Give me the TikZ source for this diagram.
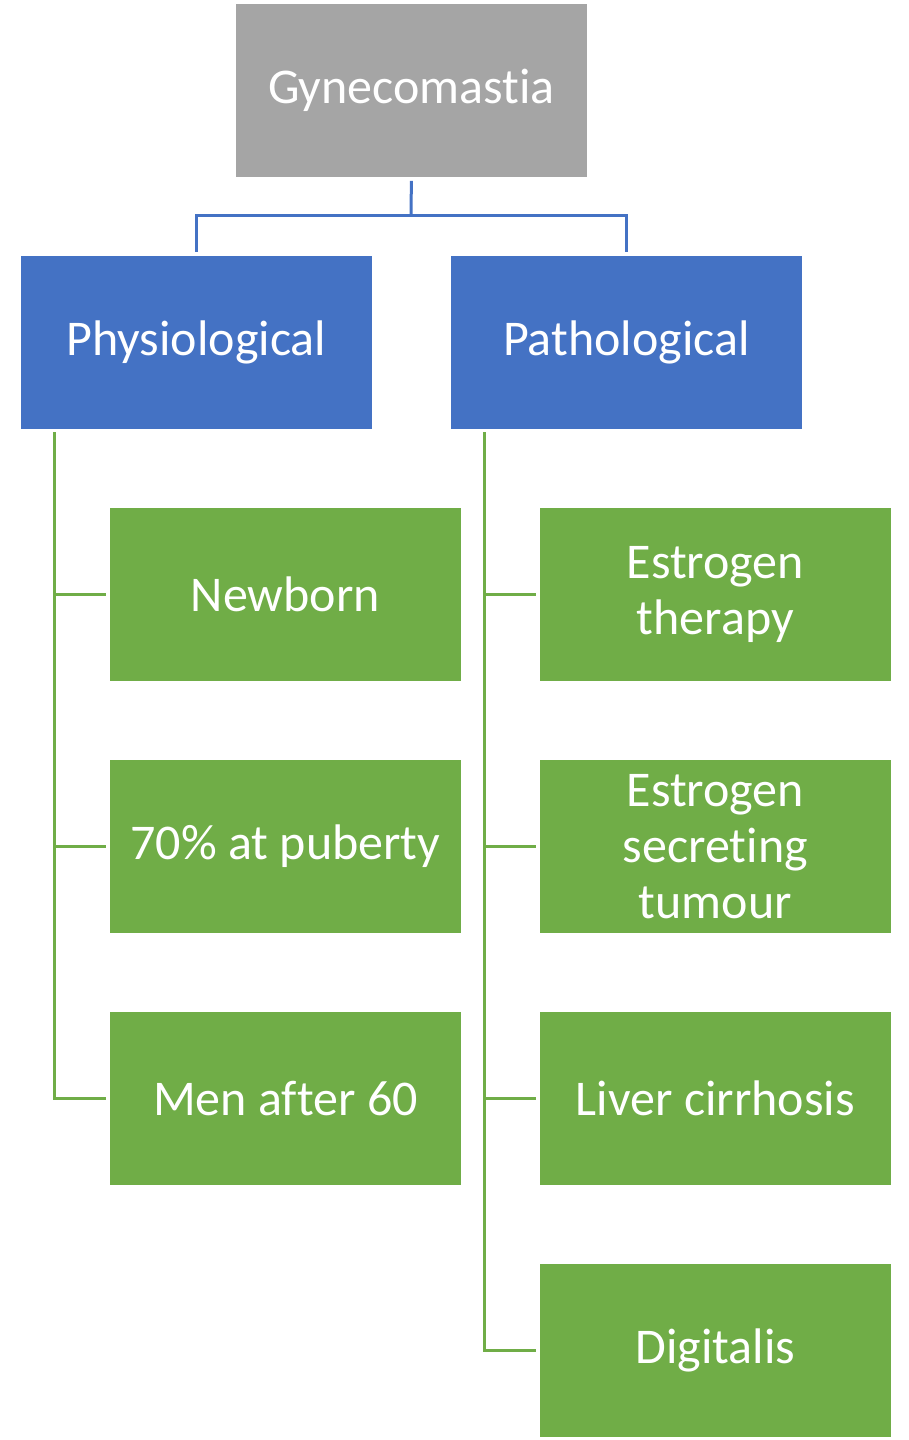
\documentclass[tikz,border=0pt]{standalone}
\usepackage{fontspec}
\setmainfont{Carlito}[Ligatures={NoCommon}]
\definecolor{gbox}{HTML}{A5A5A5}
\definecolor{bbox}{HTML}{4472C4}
\definecolor{grbox}{HTML}{70AD47}
\begin{document}
\begin{tikzpicture}[x=1pt,y=-1pt,
  box/.style={minimum width=352pt,minimum height=174pt,inner sep=0pt,text=white,
    font=\fontsize{50}{56}\selectfont,align=center,draw=white,line width=0.8pt,anchor=north west},
  topbox/.style={box,fill=gbox},
  catbox/.style={box,fill=bbox},
  leafbox/.style={box,fill=grbox},
  bline/.style={draw=bbox,line width=3pt},
  gline/.style={draw=grbox,line width=3pt}]
\useasboundingbox (0,0) rectangle (909,1440);
\node[topbox] (g) at (235,3) {Gynecomastia};
\node[catbox] (phys) at (20,255) {Physiological};
\node[catbox] (path) at (450,255) {Pathological};
\node[leafbox] (l1) at (109,507) {Newborn};
\node[leafbox] (l2) at (109,759) {70\% at puberty};
\node[leafbox] (l3) at (109,1011) {Men after 60};
\node[leafbox] (r1) at (539,507) {Estrogen\\therapy};
\node[leafbox] (r2) at (539,759) {Estrogen\\secreting\\tumour};
\node[leafbox] (r3) at (539,1011) {Liver cirrhosis};
\node[leafbox] (r4) at (539,1263) {Digitalis};
% top connectors
\coordinate (mid) at (411,215);
\draw[bline] ([yshift=-3pt]g.south) -- (mid);
\draw[bline] (mid) -| ([yshift=3pt]phys.north);
\draw[bline] (mid) -| ([yshift=3pt]path.north);
% left tree
\coordinate (ltop) at (54,432);
\draw[gline] (ltop) |- ([xshift=-3pt]l3.west);
\draw[gline] (ltop |- l1.west) -- ([xshift=-3pt]l1.west);
\draw[gline] (ltop |- l2.west) -- ([xshift=-3pt]l2.west);
% right tree
\coordinate (rtop) at (484,432);
\draw[gline] (rtop) |- ([xshift=-3pt]r4.west);
\draw[gline] (rtop |- r1.west) -- ([xshift=-3pt]r1.west);
\draw[gline] (rtop |- r2.west) -- ([xshift=-3pt]r2.west);
\draw[gline] (rtop |- r3.west) -- ([xshift=-3pt]r3.west);
\end{tikzpicture}
\end{document}
